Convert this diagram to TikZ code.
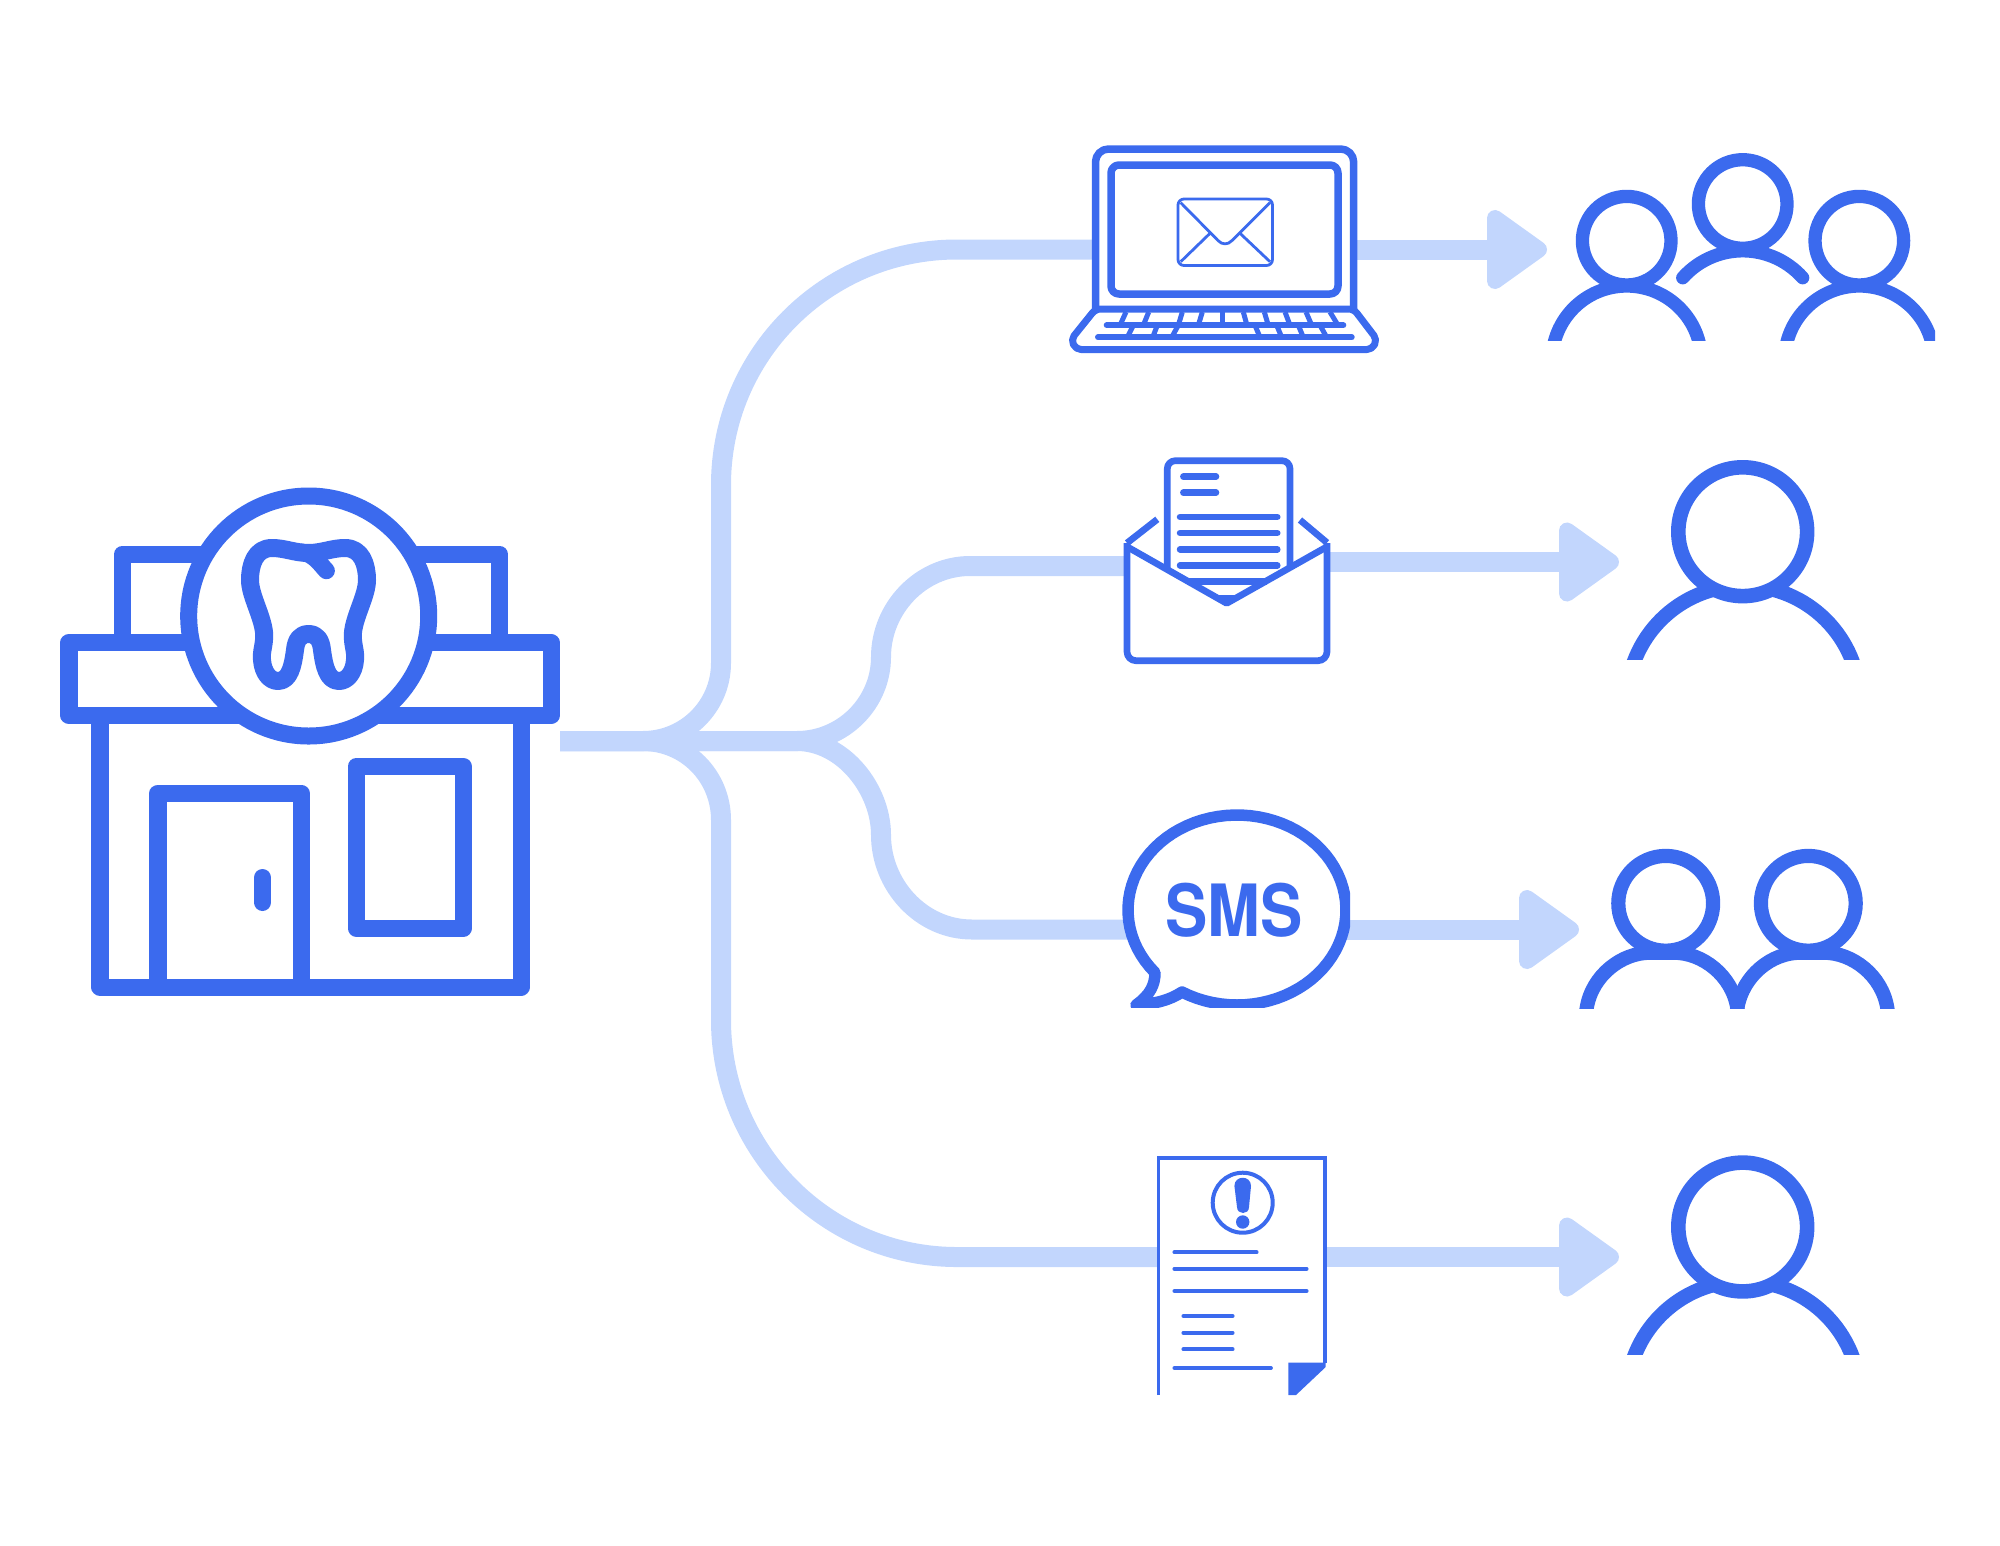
\documentclass[tikz,border=0pt]{standalone}
\usepackage{fontspec}
\newfontfamily\smsfont[FakeStretch=0.88]{TeX Gyre Heros}
\definecolor{blue1}{RGB}{59,106,238}
\definecolor{blue2}{RGB}{194,214,253}
\def\u{0.2845pt}
\tikzset{
  wire/.style={blue2,line width=20*\u},
  wirehead/.style={blue2,fill=blue2,line width=16*\u,line join=round},
  iconline/.style={blue1,line join=round},
  keyline/.style={blue1,line width=5*\u},
  textline/.style={blue1,line cap=round},
}
% x, y of the head, radius of the head, x and top of the shoulder, radius of the shoulder, cut
\newcommand{\person}[7]{
  \begin{scope}
    \clip (#4-#6-20,#5-20) rectangle (#4+#6+20,#7);
    \draw[iconline,line width=\pw*\u] (#4,#5+#6) circle (#6);
  \end{scope}
  \draw[iconline,line width=\pw*\u,fill=white] (#1,#2) circle (#3);
}
\newcommand{\wiretip}[1]{
  \draw[wirehead] (#1)--++(0,-31.5)--++(44,31.5)--++(-44,31.5)--cycle;
}
\begin{document}
\begin{tikzpicture}[x=0.01cm,y=-0.01cm]
  \useasboundingbox (0,0) rectangle (2000,1545);
  \coordinate (hub) at (560,741);
  \coordinate (laptopin) at (1100,249.5);
  \coordinate (laptopout) at (1350,249.5);
  \coordinate (crowdin) at (1495,249.5);
  \coordinate (mailin) at (1130,566);
  \coordinate (mailout) at (1325,562);
  \coordinate (singlein) at (1567,562);
  \coordinate (smsin) at (1135,929.5);
  \coordinate (smsout) at (1340,929.5);
  \coordinate (pairin) at (1527,929.5);
  \coordinate (noticein) at (1165,1257);
  \coordinate (noticeout) at (1320,1257);
  \coordinate (otherin) at (1567,1257);
  %wires
  \draw[wire] (hub)--(643,741) .. controls (686,741) and (721,706) .. (721,663)--(721,485) .. controls (721,355) and (826,249.5) .. (957,249.5)--(laptopin);
  \draw[wire] (hub)--(643,741) .. controls (686,741) and (721,776) .. (721,820)--(721,1020) .. controls (721,1150) and (826,1257) .. (957,1257)--(noticein);
  \draw[wire] (hub)--(797,741) .. controls (843,741) and (881,703) .. (881,657) .. controls (881,608) and (921,566) .. (970,566)--(mailin);
  \draw[wire] (hub)--(797,741) .. controls (843,741) and (881,789) .. (881,835) .. controls (881,885) and (921,929.5) .. (972,929.5)--(smsin);
  \draw[wire] (laptopout)--(crowdin);
  \draw[wire] (mailout)--(singlein);
  \draw[wire] (smsout)--(pairin);
  \draw[wire] (noticeout)--(otherin);
  \wiretip{crowdin}
  \wiretip{singlein}
  \wiretip{pairin}
  \wiretip{otherin}
  %clinic
  \begin{scope}[iconline,line width=17*\u]
    \draw (122.5,642.5)--(122.5,554)--(499.5,554)--(499.5,642.5);
    \draw[fill=white] (69,642.5) rectangle (551,715.6);
    \draw (100,715.6)--(100,987)--(521,987)--(521,715.6);
    \draw (158,987)--(158,793)--(301,793)--(301,987);
    \draw (356,766.5) rectangle (463.5,928);
    \draw[line cap=round] (262.5,877.5)--(262.5,902.5);
    \draw[fill=white] (308.7,616) circle (120);
    \draw[line width=18*\u] (308.6,553) .. controls (295,553) and (285,548) .. (272,548) .. controls (255,548) and (250,565) .. (250,580) .. controls (250,595) and (262,615) .. (264,632) .. controls (265,645) and (261,650) .. (262,660) .. controls (263,673) and (270,681) .. (278,681) .. controls (290,681) and (293,665) .. (295,650) .. controls (296,640) and (300,634) .. (308.6,634) .. controls (317,634) and (321,640) .. (322,650) .. controls (324,665) and (327,681) .. (339,681) .. controls (347,681) and (354,673) .. (355,660) .. controls (356,650) and (352,645) .. (353,632) .. controls (355,615) and (367,595) .. (367,580) .. controls (367,565) and (362,548) .. (345,548) .. controls (332,548) and (322,553) .. (308.6,553)--cycle;
    \draw[line width=17*\u,line cap=round] (302,552) .. controls (315,555) and (320,564) .. (326.4,570.7);
  \end{scope}
  %laptop
  \draw[iconline,line width=7.5*\u,fill=white,rounded corners=13*\u] (1095.5,309)--(1095.5,149)--(1353.7,149)--(1353.7,309);
  \draw[iconline,line width=7.5*\u,rounded corners=8*\u] (1111,165) rectangle (1338,294);
  \draw[iconline,line width=7*\u,fill=white,rounded corners=5*\u] (1224,309)--(1353.7,309)--(1377,339.5)--(1372,349.5)--(1076,349.5)--(1071,339.5)--(1095.5,309)--cycle;
  \draw[iconline,line width=2.8*\u,rounded corners=6*\u] (1178,199) rectangle (1272.5,265.5);
  \draw[iconline,line width=2.8*\u] (1180.7,202.7)--(1218,240.5) .. controls (1222,245) and (1228,245) .. (1232,240.5)--(1270,202.7);
  \draw[iconline,line width=2.8*\u] (1210,233.3)--(1180.7,261.7);
  \draw[iconline,line width=2.8*\u] (1240,233.3)--(1270,261.7);
  \foreach \a/\b in {1126/1120,1148.7/1143.3,1182.3/1178.3,1202.3/1198.3,1222.7/1222.7,1243.3/1247,1264.3/1268.3,1285/1290,1306/1311.7,1330/1338}
    \draw[keyline] (\a,312)--(\b,325.3);
  \foreach \a/\b in {1133.3/1127.3,1157.3/1152.7,1178.3/1171.7,1255/1260,1276.7/1281.7,1298.3/1303.3,1320/1326.7}
    \draw[keyline] (\a,325.3)--(\b,337.3);
  \draw[textline,line width=6*\u] (1106.7,325.3)--(1343.3,325.3);
  \draw[textline,line width=6*\u] (1098,337.3)--(1351.7,337.3);
  %envelope with letter
  \fill[white] (1127,546.7)--(1127,660.7)--(1327,660.7)--(1327,546.7)--(1290,520)--(1290,460)--(1167,460)--(1167,520)--cycle;
  \draw[iconline,line width=6.7*\u,rounded corners=8*\u] (1167.3,569.4)--(1167.3,460.7)--(1290,460.7)--(1290,567.5);
  \foreach \y in {476.7,492.7}
    \draw[textline,line width=6.5*\u] (1183.3,\y)--(1216,\y);
  \foreach \y in {517,533,549.3,565.3}
    \draw[textline,line width=6.5*\u] (1180,\y)--(1277.3,\y);
  \draw[iconline,line width=6.5*\u] (1186.7,581.7)--(1266.7,581.7);
  \fill[blue1] (1216.7,595)--(1238.3,595)--(1226.7,606)--cycle;
  \draw[iconline,line width=6.7*\u,rounded corners=9*\u] (1127,543)--(1127,660.7)--(1327,660.7)--(1327,543);
  \draw[iconline,line width=6.7*\u] (1127,546.7)--(1226.7,603.3)--(1327,546.7);
  \draw[iconline,line width=6.7*\u] (1157.3,519.3)--(1127,543);
  \draw[iconline,line width=6.7*\u] (1300,520)--(1327,542.7);
  %bubble
  \begin{scope}
    \clip (1100,800) rectangle (1350,1007);
    \draw[iconline,line width=11.5*\u,fill=white] plot[domain=120.3:-221.2,samples=80] ({1237+109*cos(\x)},{910+95*sin(\x)}) .. controls (1155,985) and (1150,995) .. (1136,1005) .. controls (1155,1004) and (1170,1000) .. (1182,992)--cycle;
  \end{scope}
  \node[text=blue1,font=\smsfont\bfseries\fontsize{20.5}{21}\selectfont] (smstext) at (1234,910) {SMS};
  %notice
  \fill[white] (1158,1158) rectangle (1325,1395);
  \draw[blue1,line width=3.5*\u] (1158.7,1395)--(1158.7,1158)--(1325,1158)--(1325,1363);
  \fill[blue1] (1288.3,1362.7)--(1325.7,1362.7)--(1325.7,1367)--(1296,1395)--(1288.3,1395)--cycle;
  \draw[blue1,line width=4*\u] (1242.7,1202.7) circle (30);
  \fill[blue1] (1234.4,1186) .. controls (1234.4,1175) and (1251,1175) .. (1251,1186)--(1249,1207) .. controls (1249,1215) and (1237,1215) .. (1237,1207)--cycle;
  \fill[blue1] (1242.7,1222) circle (6.7);
  \begin{scope}[textline,line width=3.7*\u]
    \draw (1174.3,1252.3)--(1256.7,1252.3);
    \draw (1174.3,1268.7)--(1306.7,1268.7);
    \draw (1174.3,1291)--(1306.7,1291);
    \draw (1183.3,1316)--(1232.7,1316);
    \draw (1183.3,1332.7)--(1232.7,1332.7);
    \draw (1183.3,1349.3)--(1232.7,1349.3);
    \draw (1174.3,1368)--(1271,1368);
  \end{scope}
  %people
  \def\pw{13.3}
  \person{1626.7}{240.7}{44.3}{1626.7}{286}{74.7}{340.7}
  \begin{scope}
    \clip (1700,100) rectangle (1935,400);
    \person{1859.3}{240.7}{44.3}{1859.3}{286}{74.7}{340.7}
  \end{scope}
  \draw[iconline,line width=\pw*\u,fill=white] (1742.7,204) circle (44.3);
  \draw[iconline,line width=\pw*\u,line cap=round] plot[domain=-138.4:-41.6,samples=30] ({1742.7+80.2*cos(\x)},{331+80.2*sin(\x)});
  \def\pw{14.6}
  \person{1742.7}{531.7}{64.4}{1743.3}{585.7}{116.5}{659.3}
  \person{1742.7}{1227}{64.4}{1743.3}{1281}{116.5}{1354.6}
  %the pair
  \begin{scope}
    \clip (1570,930) rectangle (1900,1008);
    \draw[iconline,line width=14.2*\u] (1585,1018)--(1586.7,1008) .. controls (1592,975) and (1622,952.7) .. (1650,952.7)--(1674,952.7) .. controls (1702,952.7) and (1732,975) .. (1737.3,1008)--(1739,1018);
    \draw[iconline,line width=14.2*\u] (1735.6,1018)--(1737.3,1008) .. controls (1743,975) and (1772,952.7) .. (1800,952.7)--(1824,952.7) .. controls (1852,952.7) and (1882,975) .. (1887.3,1008)--(1889,1018);
  \end{scope}
  \draw[iconline,line width=14.2*\u,fill=white] (1665.7,903.3) circle (47.4);
  \draw[iconline,line width=14.2*\u,fill=white] (1808.3,903.3) circle (47.4);
\end{tikzpicture}
\end{document}
